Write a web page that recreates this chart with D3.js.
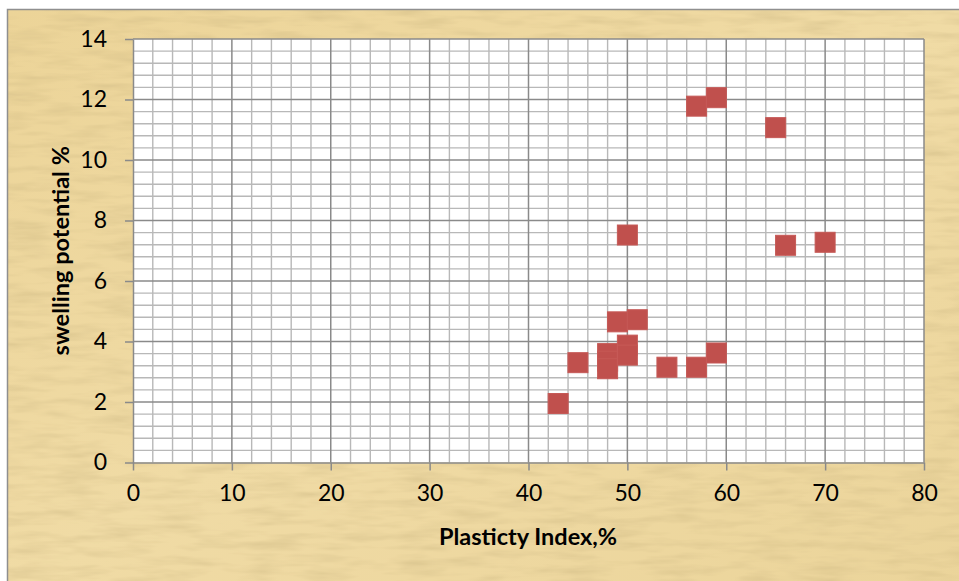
<!DOCTYPE html>
<html>
<head>
<meta charset="utf-8">
<script src="https://cdn.jsdelivr.net/npm/d3@7/dist/d3.min.js"></script>
<style>
  html, body { margin: 0; padding: 0; background: #ffffff; }
  svg { display: block; }
</style>
</head>
<body>
<svg id="chart" width="959" height="581"></svg>
<script>
// Plasticity index (%) against swelling potential (%) for each soil sample
const plasticityIndex = [43, 45, 48, 48, 48, 49, 50, 50, 51, 54, 57, 59, 50, 57, 59, 65, 66, 70];
const swellingPotential = [1.95, 3.3, 3.6, 3.35, 3.1, 4.65, 3.88, 3.55, 4.72, 3.15, 3.15, 3.62, 7.52, 11.78, 12.06, 11.07, 7.18, 7.28];

const xTicks = [0, 10, 20, 30, 40, 50, 60, 70, 80];
const yTicks = [0, 2, 4, 6, 8, 10, 12, 14];
const xTitle = "Plasticty Index,%";
const yTitle = "swelling potential %";

const W = 959, H = 581;
const plot = { left: 133, top: 39, right: 924, bottom: 462.5 };

const svg = d3.select("#chart");
const defs = svg.append("defs");

// Paper-like texture for the chart background: fine vertical fibres
const f = defs.append("filter").attr("id", "paper")
  .attr("x", 0).attr("y", 0).attr("width", "100%").attr("height", "100%");
f.append("feTurbulence").attr("type", "fractalNoise")
  .attr("baseFrequency", "0.02 0.12").attr("numOctaves", 3).attr("seed", 11).attr("result", "noise");
f.append("feColorMatrix").attr("in", "noise").attr("type", "matrix")
  .attr("values", "0 0 0 0 0.6  0 0 0 0 0.47  0 0 0 0 0.22  0 0 0 0.9 -0.36")
  .attr("result", "tint");
f.append("feComposite").attr("in", "tint").attr("in2", "SourceGraphic").attr("operator", "atop");

const bgGrad = defs.append("linearGradient").attr("id", "bgGrad")
  .attr("x1", 0).attr("y1", 0).attr("x2", 1).attr("y2", 1);
bgGrad.append("stop").attr("offset", "0%").attr("stop-color", "#ecd498");
bgGrad.append("stop").attr("offset", "50%").attr("stop-color", "#f0dba5");
bgGrad.append("stop").attr("offset", "100%").attr("stop-color", "#ebd49a");

svg.append("rect").attr("x", 7.5).attr("y", 9.5).attr("width", W).attr("height", H)
  .attr("fill", "url(#bgGrad)").attr("filter", "url(#paper)");
svg.append("rect").attr("x", 7.5).attr("y", 9.5).attr("width", W).attr("height", H)
  .attr("fill", "none").attr("stroke", "#8f8f8f").attr("stroke-width", 1.5);

const x = d3.scaleLinear().domain([0, 80]).range([plot.left, plot.right]);
const y = d3.scaleLinear().domain([0, 14]).range([plot.bottom, plot.top]);

// Plot area
svg.append("rect").attr("x", plot.left).attr("y", plot.top)
  .attr("width", plot.right - plot.left).attr("height", plot.bottom - plot.top)
  .attr("fill", "#ffffff");

// Minor grid
const gMinor = svg.append("g").attr("stroke", "#b8b8b8").attr("stroke-width", 1.4);
gMinor.selectAll("line.vx").data(d3.range(0, 81, 2).filter(v => v % 10 !== 0))
  .join("line").attr("x1", d => x(d)).attr("x2", d => x(d))
  .attr("y1", plot.top).attr("y2", plot.bottom);
gMinor.selectAll("line.hy").data(d3.range(0, 71, 2).map(v => v / 5).filter(v => Math.round(v * 10) % 20 !== 0))
  .join("line").attr("y1", d => y(d)).attr("y2", d => y(d))
  .attr("x1", plot.left).attr("x2", plot.right);

// Major grid
const gMajor = svg.append("g").attr("stroke", "#8a8a8a").attr("stroke-width", 1.5);
gMajor.selectAll("line.vx").data(xTicks.slice(1))
  .join("line").attr("x1", d => x(d)).attr("x2", d => x(d))
  .attr("y1", plot.top).attr("y2", plot.bottom);
gMajor.selectAll("line.hy").data(yTicks.slice(1))
  .join("line").attr("y1", d => y(d)).attr("y2", d => y(d))
  .attr("x1", plot.left).attr("x2", plot.right);

// Axes
const tickFont = "Lato, 'Open Sans', sans-serif";
const xAxis = svg.append("g").attr("transform", `translate(0,${plot.bottom})`)
  .call(d3.axisBottom(x).tickValues(xTicks).tickSize(8).tickPadding(14).tickSizeOuter(0));
const yAxis = svg.append("g").attr("transform", `translate(${plot.left},0)`)
  .call(d3.axisLeft(y).tickValues(yTicks).tickSize(8).tickPadding(18).tickSizeOuter(0));
[xAxis, yAxis].forEach(a => {
  a.select(".domain").attr("stroke", "#8a8a8a").attr("stroke-width", 1.5);
  a.selectAll(".tick line").attr("stroke", "#8a8a8a").attr("stroke-width", 1.5);
  a.selectAll(".tick text").attr("fill", "#000").attr("font-family", tickFont).attr("font-size", 23);
});

// Axis titles
svg.append("text").attr("x", 528).attr("y", 545).attr("text-anchor", "middle")
  .attr("font-family", tickFont).attr("font-weight", "bold").attr("font-size", 23.5)
  .attr("fill", "#000").text(xTitle);
svg.append("text").attr("transform", `translate(69,${(plot.top + plot.bottom) / 2}) rotate(-90)`)
  .attr("text-anchor", "middle")
  .attr("font-family", tickFont).attr("font-weight", "bold").attr("font-size", 23.5)
  .attr("fill", "#000").text(yTitle);

// Markers
const size = 20;
svg.append("g").selectAll("rect").data(plasticityIndex.map((p, i) => [p, swellingPotential[i]]))
  .join("rect")
  .attr("x", d => x(d[0]) - size / 2).attr("y", d => y(d[1]) - size / 2)
  .attr("width", size).attr("height", size)
  .attr("fill", "#c0504d").attr("stroke", "#c65a57").attr("stroke-width", 1);
</script>
</body>
</html>
